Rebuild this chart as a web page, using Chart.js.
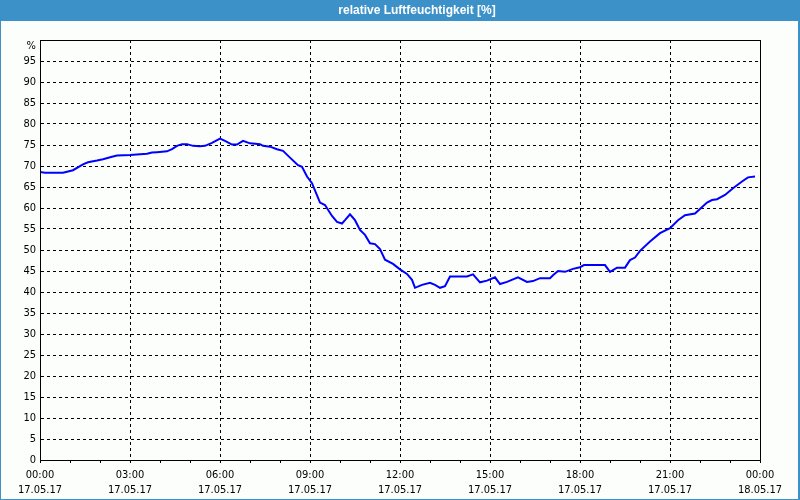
<!DOCTYPE html>
<html>
<head>
<meta charset="utf-8">
<script src="https://cdn.jsdelivr.net/npm/chart.js@4.4.0/dist/chart.umd.min.js"></script>
<style>
  html, body { margin: 0; padding: 0; background: #fcfefc; }
  #wrap { width: 800px; height: 500px; position: relative; }
</style>
</head>
<body>
<div id="wrap"><canvas id="c" width="800" height="500"></canvas></div>
<script>
// Time of each reading in minutes after 17.05.17 00:00
const minutes = [0,10,46,66,86,96,114,126,144,154,180,214,224,234,254,264,274,284,294,306,320,330,344,360,370,384,394,406,420,440,446,460,474,486,500,516,524,534,544,560,570,584,594,604,610,620,630,640,650,660,670,680,690,706,720,734,744,750,764,780,790,800,810,820,854,866,880,894,910,920,934,946,956,974,986,1000,1020,1026,1036,1050,1066,1080,1088,1130,1140,1154,1170,1180,1190,1200,1220,1240,1260,1276,1290,1310,1334,1344,1354,1370,1386,1404,1416,1430];
// Relative humidity [%]
const humidity = [68.6,68.4,68.4,69.0,70.4,70.9,71.3,71.6,72.2,72.5,72.6,72.9,73.2,73.3,73.5,74.0,74.8,75.2,75.2,74.8,74.7,74.8,75.5,76.5,76.0,75.1,75.1,76.0,75.4,75.2,74.8,74.6,74.0,73.6,72.0,70.2,69.8,67.5,65.9,61.3,60.7,58.1,56.7,56.3,57.1,58.5,57.1,54.8,53.6,51.6,51.4,50.2,47.7,46.7,45.4,44.3,42.9,41.0,41.7,42.2,41.7,41.0,41.4,43.7,43.7,44.2,42.3,42.7,43.5,41.9,42.4,43.0,43.5,42.4,42.6,43.3,43.3,44.0,45.0,44.8,45.5,45.9,46.4,46.4,44.8,45.8,45.8,47.6,48.2,49.8,52.0,54.0,55.2,57.1,58.3,58.7,61.3,61.9,62.1,63.1,64.7,66.3,67.3,67.5];
// Axis labels
const timeLabels = ['00:00','03:00','06:00','09:00','12:00','15:00','18:00','21:00','00:00'];
const dateLabels = ['17.05.17','17.05.17','17.05.17','17.05.17','17.05.17','17.05.17','17.05.17','17.05.17','18.05.17'];
const chartTitle = 'relative Luftfeuchtigkeit [%]';
const unitLabel = '%';

const tickFont = '"DejaVu Sans Condensed", "DejaVu Sans", sans-serif';

const points = minutes.map((m, i) => ({ x: m, y: humidity[i] }));

const framePlugin = {
  id: 'frame',
  beforeDraw(chart) {
    const ctx = chart.ctx;
    ctx.save();
    ctx.fillStyle = '#fcfefc';
    ctx.fillRect(0, 0, chart.width, chart.height);
    ctx.fillStyle = '#3c91c8';
    ctx.fillRect(0, 0, chart.width, 21);
    ctx.restore();
  },
  afterDraw(chart) {
    const ctx = chart.ctx;
    const a = chart.chartArea;
    ctx.save();
    ctx.strokeStyle = '#000';
    ctx.lineWidth = 1;
    ctx.strokeRect(Math.round(a.left) + 0.5, Math.round(a.top) + 0.5,
                   Math.round(a.right - a.left), Math.round(a.bottom - a.top));
    // title
    ctx.fillStyle = '#ffffff';
    ctx.font = 'bold 12px "Liberation Sans", Arial, sans-serif';
    ctx.textAlign = 'center';
    ctx.textBaseline = 'middle';
    ctx.fillText(chartTitle, 417, 11);
    // unit label
    ctx.fillStyle = '#000';
    ctx.font = '11px ' + tickFont;
    ctx.textAlign = 'right';
    ctx.fillText(unitLabel, 36, 46);
    // outer frame
    ctx.fillStyle = '#3c91c8';
    ctx.fillRect(0, 21, 1, chart.height - 21);
    ctx.fillRect(chart.width - 2, 21, 2, chart.height - 21);
    ctx.fillRect(0, chart.height - 1, chart.width, 1);
    ctx.restore();
  }
};

new Chart(document.getElementById('c'), {
  type: 'line',
  data: {
    datasets: [{
      data: points,
      borderColor: '#0000ff',
      borderWidth: 2,
      pointRadius: 0,
      tension: 0,
      fill: false
    }]
  },
  options: {
    responsive: false,
    animation: false,
    events: [],
    layout: { padding: { top: 40, right: 40, left: 0, bottom: 0 } },
    plugins: { legend: { display: false }, title: { display: false }, tooltip: { enabled: false } },
    scales: {
      x: {
        type: 'linear',
        min: 0,
        max: 1440,
        afterFit(s) { s.height = 40; },
        ticks: {
          stepSize: 60,
          autoSkip: false,
          maxRotation: 0,
          color: '#000',
          padding: 4,
          font: { family: tickFont, size: 11, lineHeight: 1.4 },
          callback(v) {
            if (v % 180 !== 0) return '';
            const i = v / 180;
            return [timeLabels[i], dateLabels[i]];
          }
        },
        grid: {
          color: (c) => (c.tick && c.tick.value % 180 === 0) ? '#000' : 'rgba(0,0,0,0)',
          tickColor: '#000',
          tickLength: 3,
          drawTicks: true
        },
        border: { display: true, color: '#000', dash: [3, 3] }
      },
      y: {
        min: 0,
        max: 100,
        afterFit(s) { s.width = 40; },
        ticks: {
          stepSize: 5,
          color: '#000',
          padding: 4,
          font: { family: tickFont, size: 11 },
          callback(v) { return v === 100 ? '' : String(v); }
        },
        grid: { color: '#000', drawTicks: false },
        border: { display: true, color: '#000', dash: [3, 3] }
      }
    }
  },
  plugins: [framePlugin]
});
</script>
</body>
</html>
